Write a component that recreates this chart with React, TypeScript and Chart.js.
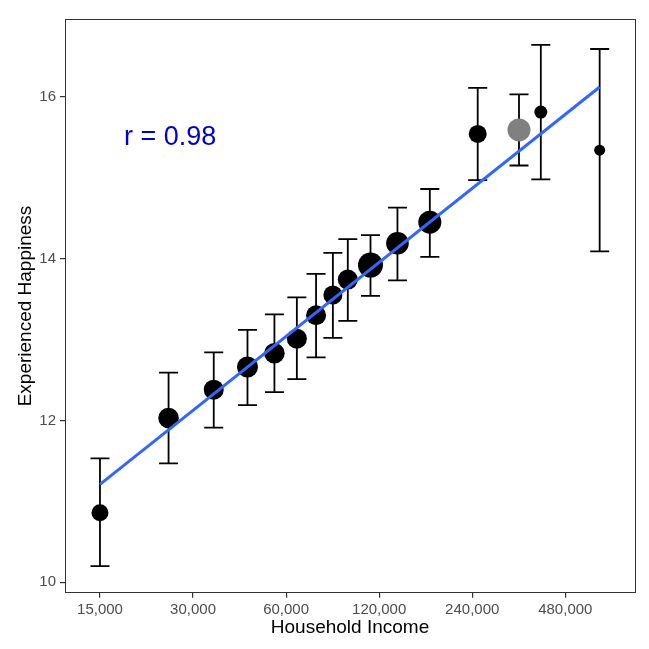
import { useEffect, useRef } from "react";
import { Chart, registerables } from "chart.js";

Chart.register(...registerables);

// ---- data ----
const incomes = [15000, 25000, 35000, 45000, 55000, 65000, 75000, 85000, 95000, 112500, 137500, 175000, 250000, 340000, 400000, 620000];
const happiness = [10.86, 12.03, 12.38, 12.66, 12.83, 13.01, 13.3, 13.55, 13.74, 13.92, 14.19, 14.45, 15.54, 15.59, 15.81, 15.34];
const lowerCI = [10.2, 11.47, 11.91, 12.19, 12.35, 12.51, 12.78, 13.02, 13.23, 13.54, 13.73, 14.02, 14.97, 15.15, 14.98, 14.09];
const upperCI = [11.53, 12.59, 12.84, 13.12, 13.31, 13.52, 13.81, 14.07, 14.24, 14.29, 14.63, 14.86, 16.11, 16.03, 16.64, 16.59];
// relative group weight, shown as marker size
const groupWeight = [8.5, 10.3, 10, 10.5, 10.3, 10, 10, 9.5, 10, 12.5, 11.3, 11.5, 9, 11.5, 6.5, 5.5];
const highlightedIncome = 340000;

const fitIncome = [15000, 620000];
const fitHappiness = [11.21, 16.12];

const xTicks = [15000, 30000, 60000, 120000, 240000, 480000];
const yTicks = [10, 12, 14, 16];

const rLabel = "r = 0.98";
const rLabelAt = { x: 25300, y: 15.5 };

const xTitle = "Household Income";
const yTitle = "Experienced Happiness";

const FONT = "'Liberation Sans', Arial, Helvetica, sans-serif";

export default function App() {
  const ref = useRef<HTMLCanvasElement | null>(null);

  useEffect(() => {
    const canvas = ref.current;
    if (!canvas) return;

    const errorBars = {
      id: "errorBars",
      beforeDatasetsDraw(chart: any) {
        const { ctx, scales } = chart;
        const xs = scales.x;
        const ys = scales.y;
        ctx.save();
        ctx.strokeStyle = "#000000";
        ctx.lineWidth = 1.8;
        const cap = 9.5;
        incomes.forEach((inc, i) => {
          const px = xs.getPixelForValue(inc);
          const lo = ys.getPixelForValue(lowerCI[i]);
          const hi = ys.getPixelForValue(upperCI[i]);
          ctx.beginPath();
          ctx.moveTo(px, lo);
          ctx.lineTo(px, hi);
          ctx.moveTo(px - cap, lo);
          ctx.lineTo(px + cap, lo);
          ctx.moveTo(px - cap, hi);
          ctx.lineTo(px + cap, hi);
          ctx.stroke();
        });
        ctx.restore();
      },
    };

    const frame = {
      id: "frame",
      afterDraw(chart: any) {
        const { ctx, chartArea, scales } = chart;
        ctx.save();
        ctx.strokeStyle = "#333333";
        ctx.lineWidth = 1;
        ctx.strokeRect(
          Math.round(chartArea.left) + 0.5,
          Math.round(chartArea.top) + 0.5,
          Math.round(chartArea.right - chartArea.left),
          Math.round(chartArea.bottom - chartArea.top)
        );
        // annotation
        ctx.fillStyle = "#0000CD";
        ctx.font = `27px ${FONT}`;
        ctx.textAlign = "center";
        ctx.textBaseline = "middle";
        ctx.fillText(rLabel, scales.x.getPixelForValue(rLabelAt.x), scales.y.getPixelForValue(rLabelAt.y));
        ctx.restore();
      },
    };

    const chart = new Chart(canvas, {
      data: {
        datasets: [
          {
            type: "line",
            data: fitIncome.map((x, i) => ({ x, y: fitHappiness[i] })),
            borderColor: "#3366FF",
            borderWidth: 3,
            pointRadius: 0,
            fill: false,
            order: 0,
          },
          {
            type: "scatter",
            data: incomes.map((x, i) => ({ x, y: happiness[i] })),
            pointRadius: groupWeight,
            pointHoverRadius: groupWeight,
            pointBackgroundColor: incomes.map((x) => (x === highlightedIncome ? "#808080" : "#000000")),
            pointBorderWidth: 0,
            borderWidth: 0,
            order: 1,
          },
        ],
      } as any,
      options: {
        animation: false,
        responsive: true,
        maintainAspectRatio: false,
        layout: { padding: { top: 19.3, right: 14, left: 0, bottom: 0 } },
        plugins: { legend: { display: false }, tooltip: { enabled: false } },
        scales: {
          x: {
            type: "logarithmic",
            min: 11560,
            max: 806700,
            afterBuildTicks: (axis: any) => {
              axis.ticks = xTicks.map((v) => ({ value: v }));
            },
            afterFit: (axis: any) => {
              axis.height = 56.3;
            },
            grid: { display: true, drawOnChartArea: false, drawTicks: true, tickLength: 5, color: "#333333", lineWidth: 1.2 },
            border: { display: false },
            ticks: {
              autoSkip: false,
              maxRotation: 0,
              padding: 3,
              color: "#4D4D4D",
              font: { family: FONT, size: 15 },
              callback: (v: any) => Number(v).toLocaleString("en-US"),
            },
            title: {
              display: true,
              text: xTitle,
              color: "#000000",
              font: { family: FONT, size: 19 },
              padding: { top: 0, bottom: 9.5 },
            },
          },
          y: {
            type: "linear",
            min: 9.871,
            max: 16.957,
            afterBuildTicks: (axis: any) => {
              axis.ticks = yTicks.map((v) => ({ value: v }));
            },
            afterFit: (axis: any) => {
              axis.width = 65;
            },
            grid: { display: true, drawOnChartArea: false, drawTicks: true, tickLength: 5, color: "#333333", lineWidth: 1.2 },
            border: { display: false },
            ticks: {
              padding: 4,
              color: "#4D4D4D",
              font: { family: FONT, size: 15 },
              callback: (v: any) => String(v),
            },
            title: {
              display: true,
              text: yTitle,
              color: "#000000",
              font: { family: FONT, size: 19 },
              padding: { top: 14.4, bottom: 0 },
            },
          },
        },
      } as any,
      plugins: [errorBars, frame],
    });

    return () => chart.destroy();
  }, []);

  return (
    <div style={{ position: "absolute", left: 0, top: 0, width: 649, height: 649, background: "#ffffff" }}>
      <canvas ref={ref} />
    </div>
  );
}
